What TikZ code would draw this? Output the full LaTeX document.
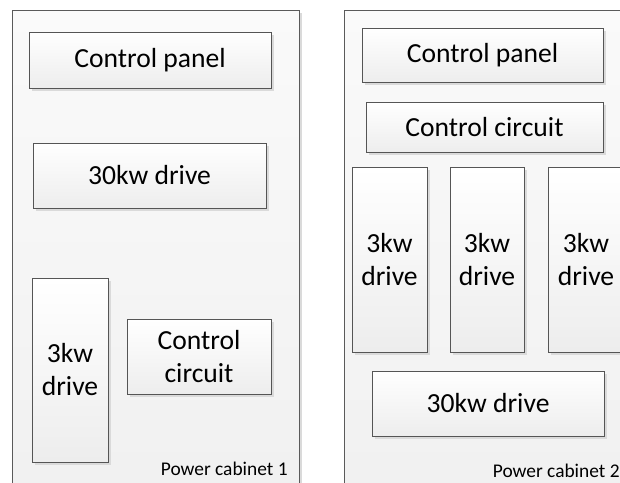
\documentclass[tikz,border=0pt]{standalone}
\usepackage{fontspec}
\setmainfont{Carlito}
\usetikzlibrary{shadows}
\definecolor{cCabF}{HTML}{F0F0F0}
\definecolor{cCabL}{HTML}{5A5A5A}
\definecolor{cBoxL}{HTML}{555555}
\definecolor{cBoxB}{HTML}{EDEDED}
\definecolor{cShade}{HTML}{DADADA}
\tikzset{
  cabinet/.style={draw=cCabL,line width=0.6pt,anchor=north west,inner sep=0pt,
      top color=white!98!black,bottom color=cCabF,
      drop shadow={shadow xshift=1.4pt,shadow yshift=-1.4pt,fill=cShade,opacity=1}},
  unit/.style={draw=cBoxL,line width=0.5pt,align=center,inner sep=0pt,
      top color=white,bottom color=cBoxB,
      font=\fontsize{13.8}{16.5}\selectfont,
      drop shadow={shadow xshift=1.5pt,shadow yshift=-1.5pt,fill=cShade,opacity=1}},
  cablab/.style={font=\fontsize{9.7}{11}\selectfont,anchor=base east,inner sep=0pt},
}
% name, x1, y1, x2, y2, text  (pixel units)
\newcommand{\unitbox}[6]{%
  \node[unit,minimum width=(#4-#2)*0.5pt,minimum height=(#5-#3)*0.5pt]
    (#1) at ({(#2+#4)/2},{(#3+#5)/2}) {#6};}

\begin{document}
\begin{tikzpicture}[x=0.5pt,y=-0.5pt]
  \useasboundingbox (0,0) rectangle (620,482);
  \clip (0,0) rectangle (620,482);

  % cabinets
  \node[cabinet,minimum width=287*0.5pt,minimum height=520*0.5pt] (cab1) at (12,10) {};
  \node[cabinet,minimum width=300*0.5pt,minimum height=520*0.5pt] (cab2) at (344,10) {};

  % power cabinet 1
  \unitbox{cp1}{29}{32}{271}{88}{Control panel}
  \unitbox{dra}{33}{143}{266}{208}{30kw drive}
  \unitbox{drb}{32}{278}{108}{462}{3kw\\drive}
  \unitbox{cc1}{127}{319}{271}{394}{Control\\circuit}
  \node[cablab] (lab1) at (288,475) {Power cabinet 1};

  % power cabinet 2
  \unitbox{cp2}{362}{28}{603}{82}{Control panel}
  \unitbox{cc2}{366}{102}{603}{152}{Control circuit}
  \unitbox{drc}{352}{167}{427}{352}{3kw\\drive}
  \unitbox{drd}{450}{167}{524}{352}{3kw\\drive}
  \unitbox{dre}{548}{167}{624}{352}{3kw\\drive}
  \unitbox{drf}{372}{371}{604}{436}{30kw drive}
  \node[cablab] (lab2) at (620,477) {Power cabinet 2};
\end{tikzpicture}
\end{document}
